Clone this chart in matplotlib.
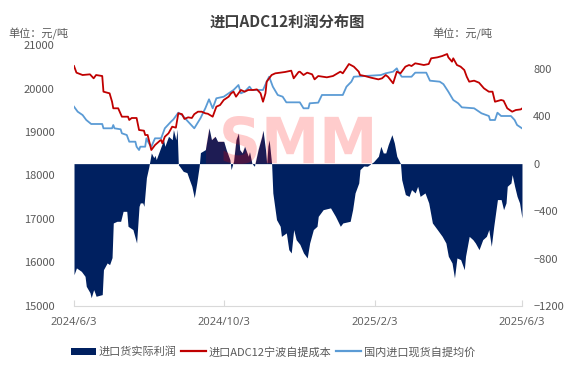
import numpy as np
import pandas as pd
import matplotlib
matplotlib.use("Agg")
import matplotlib.pyplot as plt
from matplotlib.patches import Patch, PathPatch, Rectangle
from matplotlib.lines import Line2D
from matplotlib.textpath import TextPath
from matplotlib.font_manager import FontProperties
from matplotlib.transforms import Affine2D

plt.rcParams['font.family'] = ['Noto Sans CJK SC', 'DejaVu Sans']

# ---- данные: прибыль импорта (правая ось) ----
profit_dates = [
    "2024-06-03", "2024-06-05", "2024-06-09", "2024-06-12", "2024-06-13", "2024-06-16",
    "2024-06-17", "2024-06-19", "2024-06-20", "2024-06-21", "2024-06-26", "2024-06-27",
    "2024-06-30", "2024-07-02", "2024-07-04", "2024-07-05", "2024-07-08", "2024-07-11",
    "2024-07-13", "2024-07-16", "2024-07-17", "2024-07-21", "2024-07-24", "2024-07-26",
    "2024-07-27", "2024-07-29", "2024-07-30", "2024-08-01", "2024-08-03", "2024-08-05",
    "2024-08-07", "2024-08-08", "2024-08-09", "2024-08-12", "2024-08-15", "2024-08-16",
    "2024-08-19", "2024-08-22", "2024-08-23", "2024-08-25", "2024-08-26", "2024-08-27",
    "2024-08-28", "2024-08-31", "2024-09-03", "2024-09-05", "2024-09-07", "2024-09-09",
    "2024-09-11", "2024-09-13", "2024-09-14", "2024-09-18", "2024-09-21", "2024-09-23",
    "2024-09-26", "2024-09-28", "2024-10-03", "2024-10-05", "2024-10-08", "2024-10-09",
    "2024-10-11", "2024-10-13", "2024-10-15", "2024-10-16", "2024-10-18", "2024-10-20",
    "2024-10-21", "2024-10-23", "2024-10-24", "2024-10-26", "2024-10-28", "2024-10-31",
    "2024-11-03", "2024-11-04", "2024-11-06", "2024-11-07", "2024-11-08", "2024-11-09",
    "2024-11-11", "2024-11-12", "2024-11-15", "2024-11-18", "2024-11-19", "2024-11-23",
    "2024-11-25", "2024-11-27", "2024-11-29", "2024-12-01", "2024-12-04", "2024-12-07",
    "2024-12-10", "2024-12-12", "2024-12-15", "2024-12-18", "2024-12-19", "2024-12-23",
    "2024-12-29", "2025-01-02", "2025-01-06", "2025-01-08", "2025-01-14", "2025-01-16",
    "2025-01-18", "2025-01-21", "2025-01-22", "2025-01-25", "2025-01-28", "2025-01-31",
    "2025-02-02", "2025-02-06", "2025-02-08", "2025-02-10", "2025-02-12", "2025-02-14",
    "2025-02-17", "2025-02-19", "2025-02-21", "2025-02-24", "2025-02-25", "2025-02-28",
    "2025-03-03", "2025-03-05", "2025-03-08", "2025-03-10", "2025-03-12", "2025-03-16",
    "2025-03-19", "2025-03-22", "2025-03-26", "2025-03-30", "2025-04-02", "2025-04-04",
    "2025-04-07", "2025-04-09", "2025-04-11", "2025-04-14", "2025-04-17", "2025-04-18",
    "2025-04-21", "2025-04-24", "2025-04-26", "2025-04-29", "2025-05-02", "2025-05-05",
    "2025-05-07", "2025-05-09", "2025-05-11", "2025-05-14", "2025-05-17", "2025-05-19",
    "2025-05-21", "2025-05-22", "2025-05-25", "2025-05-26", "2025-05-28", "2025-05-30",
    "2025-06-01", "2025-06-03",
]
profit_vals = [
    -936, -879, -908, -950, -1034, -1088,
    -1130, -1062, -1088, -1118, -1104, -894,
    -837, -851, -792, -500, -486, -486,
    -402, -402, -528, -556, -669, -360,
    -331, -331, -360, -118, -25, 90,
    50, 70, 34, 118, 202, 146,
    230, 202, 287, 202, 290, -10,
    -22, -65, -76, -135, -191, -287,
    -163, -22, 93, 118, 301, 202,
    230, 188, 188, 118, 34, -50,
    20, 202, 258, 118, 90, 146,
    118, 62, 100, 0, -22, 118,
    230, 281, 118, 0, 146, 200,
    0, -247, -472, -528, -613, -584,
    -725, -753, -556, -641, -680, -753,
    -795, -669, -556, -528, -444, -388,
    -373, -444, -528, -500, -486, -388,
    -247, -163, -50, -20, -22, 0,
    15, 62, 146, 90, 90, 160,
    244, 174, 62, 0, -135, -261,
    -276, -219, -247, -191, -276, -247,
    -331, -500, -556, -613, -669, -781,
    -837, -963, -795, -809, -894, -781,
    -613, -641, -669, -725, -641, -613,
    -556, -697, -528, -303, -303, -388,
    -331, -191, -163, -93, -191, -276,
    -331, -458,
]

# ---- данные: себестоимость ADC12 (левая ось) ----
cost_dates = [
    "2024-06-03", "2024-06-05", "2024-06-10", "2024-06-16", "2024-06-19", "2024-06-21",
    "2024-06-26", "2024-06-27", "2024-07-02", "2024-07-04", "2024-07-05", "2024-07-09",
    "2024-07-12", "2024-07-17", "2024-07-18", "2024-07-20", "2024-07-24", "2024-07-26",
    "2024-07-30", "2024-07-31", "2024-08-02", "2024-08-03", "2024-08-05", "2024-08-07",
    "2024-08-08", "2024-08-12", "2024-08-13", "2024-08-14", "2024-08-16", "2024-08-19",
    "2024-08-22", "2024-08-25", "2024-08-27", "2024-08-30", "2024-09-01", "2024-09-04",
    "2024-09-07", "2024-09-09", "2024-09-12", "2024-09-15", "2024-09-18", "2024-09-20",
    "2024-09-24", "2024-09-27", "2024-09-30", "2024-10-03", "2024-10-07", "2024-10-09",
    "2024-10-11", "2024-10-13", "2024-10-15", "2024-10-17", "2024-10-20", "2024-10-23",
    "2024-10-27", "2024-10-30", "2024-11-02", "2024-11-04", "2024-11-06", "2024-11-07",
    "2024-11-11", "2024-11-14", "2024-11-18", "2024-11-22", "2024-11-27", "2024-11-29",
    "2024-12-03", "2024-12-04", "2024-12-07", "2024-12-10", "2024-12-14", "2024-12-16",
    "2024-12-19", "2024-12-26", "2024-12-31", "2025-01-06", "2025-01-08", "2025-01-13",
    "2025-01-17", "2025-01-21", "2025-01-22", "2025-01-26", "2025-01-31", "2025-02-06",
    "2025-02-09", "2025-02-12", "2025-02-14", "2025-02-18", "2025-02-21", "2025-02-24",
    "2025-02-28", "2025-03-03", "2025-03-05", "2025-03-08", "2025-03-11", "2025-03-15",
    "2025-03-19", "2025-03-21", "2025-03-26", "2025-03-30", "2025-04-03", "2025-04-04",
    "2025-04-07", "2025-04-08", "2025-04-11", "2025-04-14", "2025-04-17", "2025-04-19",
    "2025-04-21", "2025-04-25", "2025-04-29", "2025-05-03", "2025-05-07", "2025-05-10",
    "2025-05-12", "2025-05-17", "2025-05-19", "2025-05-22", "2025-05-26", "2025-05-29",
    "2025-06-02", "2025-06-03",
]
cost_vals = [
    20517, 20364, 20310, 20326, 20234, 20310,
    20287, 19927, 19889, 19696, 19545, 19545,
    19352, 19352, 19276, 19322, 19322, 19046,
    19030, 18931, 18931, 18816, 18586, 18662,
    18700, 18800, 18816, 18740, 18892, 18970,
    19122, 19100, 19430, 19410, 19300, 19337,
    19322, 19410, 19467, 19467, 19430, 19420,
    19352, 19582, 19620, 19736, 19812, 19889,
    19927, 19812, 19889, 19966, 19927, 19966,
    19966, 19980, 19889, 19696, 19889, 20157,
    20310, 20349, 20364, 20380, 20410, 20234,
    20380, 20387, 20310, 20364, 20326, 20210,
    20287, 20257, 20287, 20387, 20349, 20563,
    20502, 20387, 20310, 20287, 20249, 20210,
    20234, 20310, 20264, 20119, 20387, 20349,
    20502, 20540, 20517, 20579, 20563, 20540,
    20563, 20694, 20716, 20747, 20793, 20716,
    20617, 20694, 20540, 20502, 20425, 20271,
    20157, 20180, 20134, 20004, 19927, 19927,
    19696, 19736, 19720, 19545, 19467, 19505,
    19520, 19540,
]

# ---- данные: средняя цена внутреннего импорта (левая ось) ----
spot_dates = [
    "2024-06-03", "2024-06-06", "2024-06-10", "2024-06-13", "2024-06-17", "2024-06-26",
    "2024-06-27", "2024-07-04", "2024-07-05", "2024-07-06", "2024-07-11", "2024-07-12",
    "2024-07-16", "2024-07-18", "2024-07-23", "2024-07-24", "2024-07-26", "2024-07-27",
    "2024-07-31", "2024-08-01", "2024-08-03", "2024-08-05", "2024-08-08", "2024-08-13",
    "2024-08-16", "2024-08-21", "2024-08-23", "2024-08-27", "2024-08-30", "2024-09-04",
    "2024-09-09", "2024-09-14", "2024-09-18", "2024-09-21", "2024-09-24", "2024-09-27",
    "2024-10-03", "2024-10-07", "2024-10-11", "2024-10-15", "2024-10-17", "2024-10-20",
    "2024-10-24", "2024-10-26", "2024-11-04", "2024-11-07", "2024-11-09", "2024-11-12",
    "2024-11-16", "2024-11-20", "2024-11-23", "2024-12-04", "2024-12-07", "2024-12-11",
    "2024-12-12", "2024-12-19", "2024-12-22", "2025-01-08", "2025-01-11", "2025-01-15",
    "2025-01-17", "2025-02-08", "2025-02-12", "2025-02-18", "2025-02-21", "2025-02-22",
    "2025-02-25", "2025-03-05", "2025-03-08", "2025-03-17", "2025-03-20", "2025-03-28",
    "2025-03-31", "2025-04-04", "2025-04-08", "2025-04-12", "2025-04-15", "2025-04-25",
    "2025-05-01", "2025-05-07", "2025-05-08", "2025-05-12", "2025-05-14", "2025-05-17",
    "2025-05-25", "2025-05-28", "2025-05-30", "2025-06-03",
]
spot_vals = [
    19582, 19467, 19390, 19276, 19184, 19184,
    19085, 19085, 19160, 19085, 19062, 18970,
    18931, 18777, 18777, 18662, 18586, 18662,
    18662, 18855, 18740, 18662, 18855, 18855,
    19085, 19237, 19290, 19444, 19390, 19237,
    19085, 19315, 19545, 19752, 19545, 19775,
    19812, 19889, 19966, 20080, 19889, 19927,
    20042, 19966, 19966, 20157, 20271, 20042,
    19851, 19812, 19682, 19682, 19545, 19545,
    19660, 19675, 19851, 19851, 20042, 20157,
    20271, 20310, 20350, 20387, 20464, 20400,
    20271, 20271, 20364, 20364, 20180, 20157,
    20100, 19927, 19736, 19660, 19567, 19545,
    19430, 19368, 19276, 19276, 19444, 19368,
    19368, 19276, 19161, 19085,
]

tick_dates = ["2024-06-03", "2024-10-03", "2025-02-03", "2025-06-03"]
tick_labels = ["2024/6/3", "2024/10/3", "2025/2/3", "2025/6/3"]

series_names = ["进口货实际利润", "进口ADC12宁波自提成本", "国内进口现货自提均价"]

# -----------------------------
# Рисунок
# -----------------------------
navy = "#002060"
red = "#C00000"
blue = "#5B9BD5"
gray = "#595959"

fig = plt.figure(figsize=(5.75, 3.89), dpi=100)
ax = fig.add_axes([0.1287, 0.2134, 0.7791, 0.6709])
ax2 = ax.twinx()

pd_profit = pd.to_datetime(profit_dates)
pd_cost = pd.to_datetime(cost_dates)
pd_spot = pd.to_datetime(spot_dates)

area = ax2.fill_between(pd_profit, 0, profit_vals, color=navy, linewidth=0)

ax.plot(pd_cost, cost_vals, color=red, lw=1.3, zorder=5)
ax.plot(pd_spot, spot_vals, color=blue, lw=1.3, zorder=4)

ax.set_zorder(ax2.get_zorder() + 1)
ax.patch.set_visible(False)

# водяной знак SMM
tp = TextPath((0, 0), "SMM", prop=FontProperties(family="DejaVu Sans", weight="bold"))
ext = tp.get_extents()
x0, x1, y0, y1 = 0.333, 0.665, 0.544, 0.728
tr = (Affine2D().translate(-ext.x0, -ext.y0)
      .scale((x1 - x0) / ext.width, (y1 - y0) / ext.height)
      .translate(x0, y0))
wm = PathPatch(tr.transform_path(tp), facecolor="red", edgecolor="none",
               alpha=0.2, transform=ax.transAxes, zorder=2)
ax.add_patch(wm)
box = Rectangle((0.294, y0), x1 - 0.294, y1 - y0, facecolor="red", edgecolor="none",
                alpha=0.12, transform=ax2.transAxes, zorder=3)
ax2.add_patch(box)
box.set_clip_path(area.get_paths()[0], ax2.transData)

ax.set_xlim(pd.Timestamp("2024-06-03"), pd.Timestamp("2025-06-03"))
ax.set_ylim(15000, 21000)
ax2.set_ylim(-1200, 1000)

ax.set_yticks(np.arange(15000, 21001, 1000))
ax2.set_yticks(np.arange(-1200, 801, 400))
ax.set_xticks(pd.to_datetime(tick_dates))
ax.set_xticklabels(tick_labels)

for a in (ax, ax2):
    for s in a.spines.values():
        s.set_visible(False)
ax.spines["bottom"].set_visible(True)
ax.spines["bottom"].set_color("#d9d9d9")

ax.tick_params(axis="x", colors="#d9d9d9", labelcolor=gray, labelsize=8,
               length=4, direction="in", pad=8)
ax.tick_params(axis="y", length=0, labelcolor=gray, labelsize=8, pad=14)
ax2.tick_params(axis="y", length=0, labelcolor=gray, labelsize=8, pad=8)
for lab in ax.get_xticklabels():
    lab.set_family(["Open Sans", "DejaVu Sans"])

fig.text(0.5, 0.945, "进口ADC12利润分布图", ha="center", va="center",
         fontsize=11, fontweight="bold", color="#404040")
fig.text(0.014, 0.912, "单位：元/吨", ha="left", va="center", fontsize=8, color=gray)
fig.text(0.752, 0.912, "单位：元/吨", ha="left", va="center", fontsize=8, color=gray)

handles = [Patch(facecolor=navy), Line2D([], [], color=red, lw=1.6),
           Line2D([], [], color=blue, lw=1.6)]
fig.legend(handles, series_names, loc="center", bbox_to_anchor=(0.475, 0.095),
           ncol=3, frameon=False, fontsize=8, handlelength=2.2, handletextpad=0.3,
           columnspacing=0.4, labelcolor=gray, handleheight=0.7)

fig.savefig("out.png", dpi=100)
